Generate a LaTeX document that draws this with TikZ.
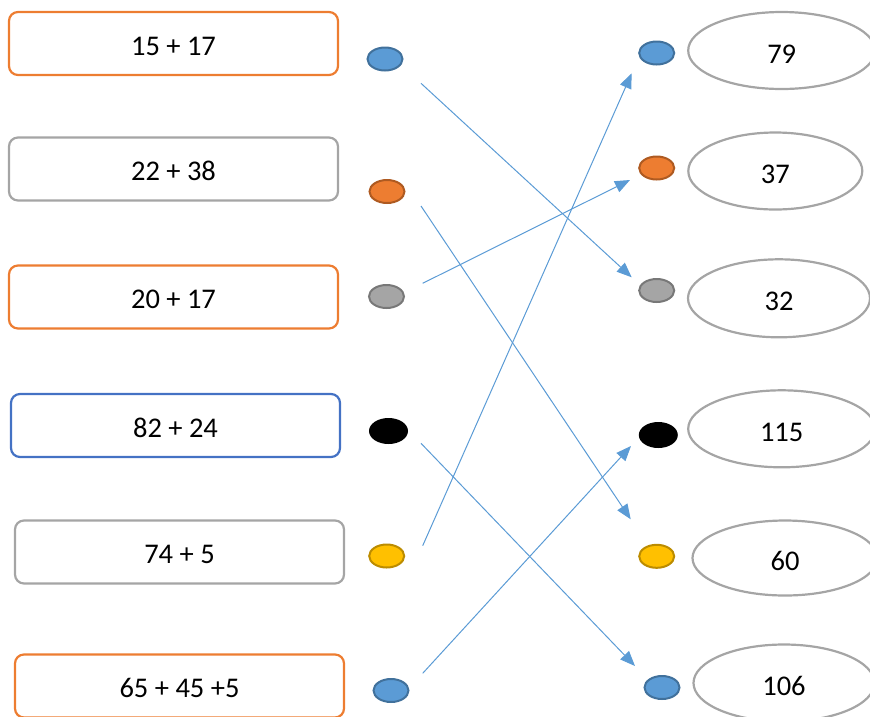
\documentclass[tikz,border=0pt]{standalone}
\usepackage{fontspec}
\setmainfont{Carlito}
\usepackage{xcolor}
\usepackage{tikz}
\usetikzlibrary{shapes.geometric,arrows.meta}

\definecolor{lineorange}{HTML}{ED7D31}
\definecolor{linegray}{HTML}{A5A5A5}
\definecolor{lineblue}{HTML}{4472C4}
\definecolor{linkblue}{HTML}{5B9BD5}
\definecolor{beadblue}{HTML}{5B9BD5}
\definecolor{beadblueedge}{HTML}{41719C}
\definecolor{beadorange}{HTML}{ED7D31}
\definecolor{beadorangeedge}{HTML}{AE5A21}
\definecolor{beadgray}{HTML}{A5A5A5}
\definecolor{beadgrayedge}{HTML}{787878}
\definecolor{beadyellow}{HTML}{FFC000}
\definecolor{beadyellowedge}{HTML}{BC8C00}

\newcommand{\sumfont}{\fontsize{28.5}{34}\selectfont}

\tikzset{
  sumbox/.style={draw,line width=2.2pt,rounded corners=9pt,minimum width=329pt,minimum height=63pt,inner sep=0pt,text height=23pt,text depth=0pt,font=\sumfont},
  bead/.style={ellipse,line width=2pt,minimum width=35pt,minimum height=23pt,inner sep=0pt},
  answer/.style={ellipse,draw=linegray,line width=2.2pt,minimum width=185pt,minimum height=77pt,inner sep=0pt,text height=25pt,text depth=0pt,font=\sumfont},
  link/.style={draw=linkblue,line width=1pt,-{Triangle[length=15pt,width=12pt]}}
}

\begin{document}
\begin{tikzpicture}[x=1pt,y=-1pt]
\clip (0,0) rectangle (870,716);
% sums
\node[sumbox,draw=lineorange] (s1) at (173.5,43.5) {15 + 17};
\node[sumbox,draw=linegray] (s2) at (173.5,169) {22 + 38};
\node[sumbox,draw=lineorange] (s3) at (173.5,297) {20 + 17};
\node[sumbox,draw=lineblue] (s4) at (175.5,425.5) {82 + 24};
\node[sumbox,draw=linegray] (s5) at (179.5,552) {74 + 5};
\node[sumbox,draw=lineorange] (s6) at (179.5,686) {65 + 45 +5};

% left beads
\node[bead,fill=beadblue,draw=beadblueedge] (l1) at (385,59) {};
\node[bead,fill=beadorange,draw=beadorangeedge] (l2) at (387,191.5) {};
\node[bead,fill=beadgray,draw=beadgrayedge] (l3) at (386.5,296.5) {};
\node[bead,fill=black,minimum width=39pt,minimum height=26pt] (l4) at (388.5,431) {};
\node[bead,fill=beadyellow,draw=beadyellowedge] (l5) at (386.7,556) {};
\node[bead,fill=beadblue,draw=beadblueedge] (l6) at (391,690.5) {};

% right beads
\node[bead,fill=beadblue,draw=beadblueedge] (r1) at (656.7,53) {};
\node[bead,fill=beadorange,draw=beadorangeedge] (r2) at (656.7,168) {};
\node[bead,fill=beadgray,draw=beadgrayedge] (r3) at (656.7,290.5) {};
\node[bead,fill=black,minimum width=39pt,minimum height=26pt] (r4) at (658.3,435) {};
\node[bead,fill=beadyellow,draw=beadyellowedge] (r5) at (656.7,556.3) {};
\node[bead,fill=beadblue,draw=beadblueedge] (r6) at (662,687.5) {};

% answers
\node[answer,minimum width=187pt] (a1) at (781.7,50.5) {79};
\node[answer,minimum width=174pt] (a2) at (775.3,171) {37};
\node[answer,minimum width=182pt,minimum height=78pt] (a3) at (779,298.3) {32};
\node[answer,minimum width=187pt] (a4) at (781.7,428.8) {115};
\node[answer,minimum height=75pt] (a5) at (785,558) {60};
\node[answer,minimum width=181pt] (a6) at (784,683) {106};

% arrow ends
\coordinate (t1) at (421,83.3);
\coordinate (h1) at (631.7,277.3);
\coordinate (t2) at (421,206);
\coordinate (h2) at (630.7,519.3);
\coordinate (t3) at (422.7,283.3);
\coordinate (h3) at (630,180);
\coordinate (t4) at (421,443.3);
\coordinate (h4) at (635,666);
\coordinate (t5) at (422.7,545.7);
\coordinate (h5) at (631.7,73.3);
\coordinate (t6) at (422.7,673.3);
\coordinate (h6) at (631,446);

% arrows
\draw[link] (t1) -- (h1);
\draw[link] (t2) -- (h2);
\draw[link] (t3) -- (h3);
\draw[link] (t4) -- (h4);
\draw[link] (t5) -- (h5);
\draw[link] (t6) -- (h6);
\end{tikzpicture}
\end{document}
